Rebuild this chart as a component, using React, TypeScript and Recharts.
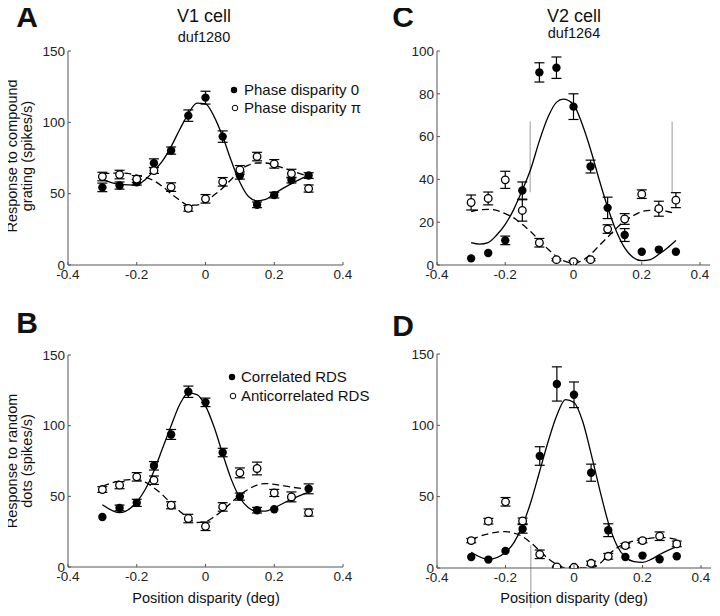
import React from 'react';
import { ComposedChart, Line, Scatter, XAxis, YAxis, ErrorBar, ReferenceLine } from 'recharts';

// disparity positions (deg)
const xs = [-0.3, -0.25, -0.2, -0.15, -0.1, -0.05, 0, 0.05, 0.1, 0.15, 0.2, 0.25, 0.3];
const xTicks = [-0.4, -0.2, 0, 0.2, 0.4];

// A: V1 cell, compound grating
const aPhase0 = [54.4, 55.7, 58, 71.4, 80.2, 104.7, 117.3, 90, 62.7, 42.2, 49, 59.5, 62.7];
const aPhase0Err = [3, 2.5, 2, 3, 2.5, 4, 4.5, 4, 2.5, 2, 2, 2, 2];
const aPhasePi = [62, 63.4, 60.2, 66.2, 54.6, 39.7, 46.4, 58.3, 66.7, 76, 70.9, 64.1, 53.6];
const aPhasePiErr = [3, 3, 2.5, 2, 3, 2, 3, 3, 3, 3, 3, 3, 2.5];
const aFitX = [-0.3, -0.25, -0.2, -0.175, -0.15, -0.125, -0.1, -0.075, -0.05, -0.025, 0, 0.025, 0.05, 0.075, 0.1, 0.125, 0.15, 0.175, 0.2, 0.25, 0.3];
const aFit0 = [60, 56.5, 56, 60, 66, 73, 83, 95, 106, 113.5, 113, 104, 90, 73, 58, 48, 45, 46, 50, 57, 63];
const aFitPi = [64, 64.5, 63, 61.5, 59, 55, 50, 45.5, 42, 42, 44.5, 49, 54, 60, 66.5, 70, 71.5, 71.5, 70, 66, 62];

// C: V2 cell, compound grating
const cPhase0 = [3.1, 5.6, 11.5, 34.8, 90, 92.2, 74, 46, 26.7, 14, 6.2, 7.2, 6.2];
const cPhase0Err = [0, 0, 2, 4, 4.5, 5, 6, 3, 5, 3, 0, 0, 0];
const cPhasePi = [29.2, 31.1, 39.8, 25.5, 10.4, 2.5, 1.6, 2.5, 16.8, 21.5, 33.1, 26.3, 30.3];
const cPhasePiErr = [3.5, 3, 4, 5, 2, 0.5, 0.5, 0.5, 2, 2.5, 2, 3.5, 3.5];
const cFitX = [-0.3, -0.275, -0.25, -0.225, -0.2, -0.175, -0.15, -0.125, -0.1, -0.075, -0.05, -0.03, 0, 0.025, 0.05, 0.075, 0.1, 0.125, 0.15, 0.175, 0.2, 0.225, 0.25, 0.275, 0.3];
const cFit0 = [10.5, 9.8, 10.5, 14, 19, 26, 35, 45, 58, 69, 76, 77.5, 75, 66, 54, 40, 27, 16, 8, 3.5, 2, 2.5, 5, 8, 11.5];
const cFitPi = [25, 25.8, 26, 25.5, 24, 22, 19, 15.5, 11.5, 7.5, 4, 2, 1, 2, 5, 9, 13, 17, 20.5, 23, 25, 25.5, 25.5, 25, 24];

// B: V1 cell, random dots
const bCorr = [35.4, 41.8, 45.4, 71.6, 93.8, 124, 116.5, 81, 49.8, 40.2, 40.9, 49, 55.3];
const bCorrErr = [0, 2, 2.5, 3, 3.5, 4, 3, 3, 2.5, 2, 0, 0, 3.5];
const bAnti = [54.8, 57.9, 63.8, 61.4, 43.7, 34.3, 28.8, 42.5, 66.6, 69.7, 52.4, 49.6, 38.5];
const bAntiErr = [2, 2.5, 3, 3, 2.5, 3, 3, 3, 3.5, 4.5, 2.5, 3.5, 2.5];
const bFitX = [-0.3, -0.25, -0.2, -0.175, -0.15, -0.125, -0.1, -0.075, -0.05, -0.025, 0, 0.025, 0.05, 0.075, 0.1, 0.125, 0.15, 0.175, 0.2, 0.25, 0.3];
const bFitCorr = [44, 38.5, 46, 55, 68, 84, 100, 115, 123, 122, 114, 99, 80, 62, 49, 42, 39.5, 39.5, 42, 48, 53];
const bFitAnti = [57, 61, 62, 60, 56, 51, 45, 39.5, 34.5, 31.5, 32, 35.5, 40, 45.5, 51, 55, 58, 59, 58.5, 56.5, 55];

// D: V2 cell, random dots
const dCorr = [7.7, 5.9, 12, 27.4, 78.5, 129, 121.4, 66.8, 26.5, 7.7, 8.7, 6.1, 8.2];
const dCorrErr = [0, 0, 0, 3, 6.5, 12, 9, 6, 4.5, 0, 0, 0, 0];
const dAnti = [19.2, 32.8, 46.4, 33, 9.6, 0.7, 0.5, 3.3, 8.2, 15.7, 19.2, 22.3, 16.9];
const dAntiErr = [1.5, 2, 3, 2, 3, 0.5, 0.5, 1.5, 2, 1.5, 1.5, 3, 2];
const dFitX = [-0.3, -0.25, -0.2, -0.175, -0.15, -0.125, -0.1, -0.075, -0.05, -0.025, 0, 0.025, 0.05, 0.075, 0.1, 0.125, 0.15, 0.175, 0.2, 0.225, 0.25, 0.3];
const dFitCorr = [11, 6, 11, 18, 30, 47, 68, 89, 107, 118, 116, 103, 80, 55, 32, 16, 7.5, 4.5, 4, 6, 9.5, 15];
const dFitAnti = [20, 24, 25.5, 24.5, 22, 17.5, 12, 6.5, 2.5, 0, 0, 0, 0, 3, 9, 14, 17, 19, 20, 21, 21.5, 20];

const pts = (ys: number[], errs: number[]) => xs.map((x, i) => ({ x, y: ys[i], err: errs[i] }));
const fit = (fx: number[], fy: number[]) => fx.map((x, i) => ({ x, y: fy[i] }));

const AXIS = '#555';
const FONT = 'Arial, "Liberation Sans", sans-serif';

const XTick = (props: any) => {
  const { x, y, payload } = props;
  return (
    <g>
      <line x1={x} x2={x} y1={y - 4} y2={y - 7} stroke={AXIS} />
      <text x={x} y={y} dy="0.72em" textAnchor="middle" fontSize={13.5} fill="#222" fontFamily={FONT}>
        {payload.value}
      </text>
    </g>
  );
};

const YTick = (props: any) => {
  const { x, y, payload } = props;
  return (
    <g>
      <line x1={x + 3} x2={x + 6} y1={y} y2={y} stroke={AXIS} />
      <text x={x} y={y} dy="0.35em" textAnchor="end" fontSize={13.5} fill="#222" fontFamily={FONT}>
        {payload.value}
      </text>
    </g>
  );
};

const Filled = (p: any) => <circle cx={p.cx} cy={p.cy} r={4.2} fill="#000" />;
const Open = (p: any) => <circle cx={p.cx} cy={p.cy} r={3.8} fill="#fff" stroke="#000" strokeWidth={1.3} />;

type PanelProps = {
  left: number; top: number; width: number; height: number;
  margin: { top: number; right: number; bottom: number; left: number };
  yMax: number; yTicks: number[];
  solidFit: { x: number; y: number }[]; dashFit: { x: number; y: number }[];
  filled: { x: number; y: number; err: number }[]; open: { x: number; y: number; err: number }[];
  children?: React.ReactNode;
};

const Panel = ({ left, top, width, height, margin, yMax, yTicks, solidFit, dashFit, filled, open, children }: PanelProps) => (
  <div style={{ position: 'absolute', left, top }}>
    <ComposedChart width={width} height={height} margin={margin}>
      <XAxis type="number" dataKey="x" domain={[-0.4, 0.4]} ticks={xTicks} stroke={AXIS}
        tickLine={false} tickSize={0} tickMargin={4} height={24} tick={<XTick />} allowDataOverflow />
      <YAxis type="number" dataKey="y" domain={[0, yMax]} ticks={yTicks} stroke={AXIS}
        tickLine={false} tickSize={0} tickMargin={3} width={40} tick={<YTick />} allowDataOverflow />
      {children}
      <Line data={dashFit} dataKey="y" type="monotone" stroke="#000" strokeWidth={1.3}
        strokeDasharray="7 4" dot={false} isAnimationActive={false} />
      <Line data={solidFit} dataKey="y" type="monotone" stroke="#000" strokeWidth={1.3}
        dot={false} isAnimationActive={false} />
      <Scatter data={filled} dataKey="y" shape={<Filled />} isAnimationActive={false}>
        <ErrorBar dataKey="err" direction="y" width={5} stroke="#000" strokeWidth={1.2} />
      </Scatter>
      <Scatter data={open} dataKey="y" shape={<Open />} isAnimationActive={false}>
        <ErrorBar dataKey="err" direction="y" width={5} stroke="#000" strokeWidth={1.2} />
      </Scatter>
    </ComposedChart>
  </div>
);

const Label = ({ x, y, size, children, bold, anchor = 'middle', rotate }: any) => (
  <text x={x} y={y} fontSize={size} fontWeight={bold ? 'bold' : 'normal'} textAnchor={anchor}
    fontFamily={FONT} fill="#111" transform={rotate ? `rotate(-90 ${x} ${y})` : undefined}>
    {children}
  </text>
);

export default function App() {
  return (
    <div style={{ position: 'relative', width: 720, height: 616, background: '#fff', margin: -8, overflow: 'hidden' }}>
      <style>{'.recharts-surface { overflow: visible; }'}</style>
      <Panel left={0} top={0} width={360} height={300}
        margin={{ top: 51, right: 17, bottom: 11, left: 28 }}
        yMax={150} yTicks={[0, 50, 100, 150]}
        solidFit={fit(aFitX, aFit0)} dashFit={fit(aFitX, aFitPi)}
        filled={pts(aPhase0, aPhase0Err)} open={pts(aPhasePi, aPhasePiErr)} />
      <Panel left={360} top={0} width={350} height={300}
        margin={{ top: 51, right: 0, bottom: 11, left: 37 }}
        yMax={100} yTicks={[0, 20, 40, 60, 80, 100]}
        solidFit={fit(cFitX, cFit0)} dashFit={fit(cFitX, cFitPi)}
        filled={pts(cPhase0, cPhase0Err)} open={pts(cPhasePi, cPhasePiErr)}>
        <ReferenceLine segment={[{ x: -0.127, y: 34 }, { x: -0.127, y: 67 }]} stroke="#999" strokeWidth={1} />
        <ReferenceLine segment={[{ x: 0.289, y: 34 }, { x: 0.289, y: 67 }]} stroke="#999" strokeWidth={1} />
      </Panel>
      <Panel left={0} top={300} width={360} height={316}
        margin={{ top: 55, right: 17, bottom: 25, left: 28 }}
        yMax={150} yTicks={[0, 50, 100, 150]}
        solidFit={fit(bFitX, bFitCorr)} dashFit={fit(bFitX, bFitAnti)}
        filled={pts(bCorr, bCorrErr)} open={pts(bAnti, bAntiErr)} />
      <Panel left={360} top={300} width={351} height={316}
        margin={{ top: 54, right: 0, bottom: 24, left: 37 }}
        yMax={150} yTicks={[0, 50, 100, 150]}
        solidFit={fit(dFitX, dFitCorr)} dashFit={fit(dFitX, dFitAnti)}
        filled={pts(dCorr, dCorrErr)} open={pts(dAnti, dAntiErr)}>
        <ReferenceLine segment={[{ x: -0.126, y: 16 }, { x: -0.126, y: -34 }]} stroke="#999"
          strokeWidth={1} ifOverflow="visible" />
      </Panel>

      <svg width={720} height={616} style={{ position: 'absolute', left: 0, top: 0, pointerEvents: 'none' }}>
        <Label x={27} y={27} size={30} bold>A</Label>
        <Label x={403} y={27} size={30} bold>C</Label>
        <Label x={27} y={333} size={30} bold>B</Label>
        <Label x={403} y={336} size={30} bold>D</Label>

        <Label x={204} y={22} size={18}>V1 cell</Label>
        <Label x={204} y={42} size={14.5}>duf1280</Label>
        <Label x={574} y={22} size={18}>V2 cell</Label>
        <Label x={574} y={38} size={14.5}>duf1264</Label>

        <Label x={17} y={156} size={14.5} rotate>Response to compound</Label>
        <Label x={32} y={156} size={14.5} rotate>grating (spikes/s)</Label>
        <Label x={17} y={461} size={14.5} rotate>Response to random</Label>
        <Label x={32} y={461} size={14.5} rotate>dots (spikes/s)</Label>

        <Label x={206} y={603} size={14.5}>Position disparity (deg)</Label>
        <Label x={574} y={603} size={14.5}>Position disparity (deg)</Label>

        <circle cx={234} cy={90} r={3.2} fill="#000" />
        <Label x={244} y={95} size={15} anchor="start">Phase disparity 0</Label>
        <circle cx={235} cy={108} r={2.8} fill="#fff" stroke="#000" strokeWidth={1} />
        <Label x={244} y={113} size={15} anchor="start">Phase disparity π</Label>

        <circle cx={232} cy={377} r={3.2} fill="#000" />
        <Label x={241} y={382} size={15} anchor="start">Correlated RDS</Label>
        <circle cx={233} cy={396} r={2.8} fill="#fff" stroke="#000" strokeWidth={1} />
        <Label x={241} y={401} size={15} anchor="start">Anticorrelated RDS</Label>
      </svg>
    </div>
  );
}
